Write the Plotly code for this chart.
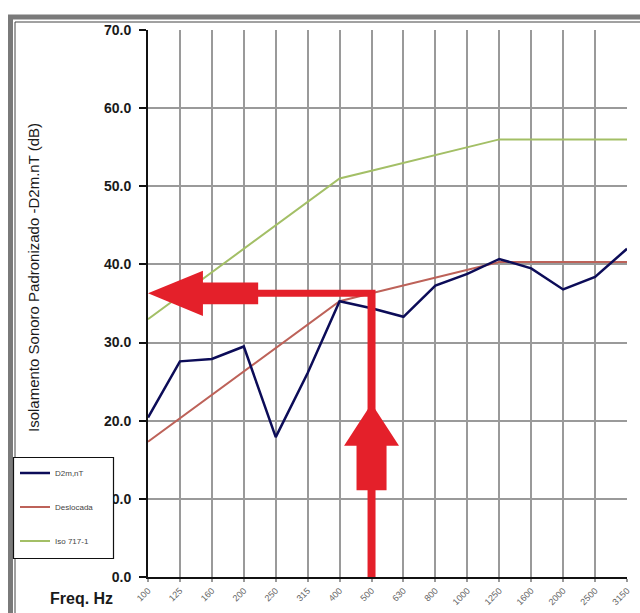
import plotly.graph_objects as go

# ---- data ----
freqs = ["100", "125", "160", "200", "250", "315", "400", "500", "630",
         "800", "1000", "1250", "1600", "2000", "2500", "3150"]
d2mnt = [20.4, 27.6, 27.9, 29.5, 17.9, 26.1, 35.3, 34.4, 33.3,
         37.3, 38.8, 40.7, 39.5, 36.8, 38.4, 42.0]
deslocada = [17.3, 20.3, 23.3, 26.3, 29.3, 32.3, 35.3, 36.3, 37.3,
             38.3, 39.3, 40.3, 40.3, 40.3, 40.3, 40.3]
iso717 = [33, 36, 39, 42, 45, 48, 51, 52, 53, 54, 55, 56, 56, 56, 56, 56]
y_ticks = [0, 10, 20, 30, 40, 50, 60, 70]
index_freq = "500"      # frequency used for the single-number index
index_value = 36.3      # value read at 500 Hz on the shifted curve

xpos = list(range(len(freqs)))

W, H = 640, 613
L, R, T, B = 148, 13, 30, 36
PW, PH = W - L - R, H - T - B


def px_x(px):
    return (px - L) / PW


def px_y(py):
    return (H - B - py) / PH


FONT = "Liberation Sans, Arial, sans-serif"

fig = go.Figure()
fig.add_trace(go.Scatter(x=xpos, y=iso717, mode="lines", name="Iso 717-1",
                         line=dict(color="#a3bf66", width=2),
                         legendgroup="c", legendrank=3))
fig.add_trace(go.Scatter(x=xpos, y=deslocada, mode="lines", name="Deslocada",
                         line=dict(color="#bd6259", width=2),
                         legendgroup="b", legendrank=2))
fig.add_trace(go.Scatter(x=xpos, y=d2mnt, mode="lines", name="D2m,nT",
                         line=dict(color="#0c0c58", width=2.5),
                         legendgroup="a", legendrank=1))

# ---- red arrows (data coordinates: category index / dB) ----
hx = freqs.index(index_freq)
hy = index_value
RED = "#e4202a"
sx = 0.125   # half shaft width (index units)
sy = 0.45    # half shaft thickness (dB)
horiz = [
    (0, hy), (1.72, hy + 2.9), (1.72, hy + 1.4), (3.45, hy + 1.4),
    (3.45, hy + sy), (hx + sx, hy + sy), (hx + sx, -0.6), (hx - sx, -0.6),
    (hx - sx, hy - sy), (3.45, hy - sy), (3.45, hy - 1.4), (1.72, hy - 1.4),
    (1.72, hy - 2.9),
]
vert = [
    (hx, 22.2), (hx + 0.86, 16.8), (hx + 0.47, 16.8), (hx + 0.47, 11.1),
    (hx - 0.47, 11.1), (hx - 0.47, 16.8), (hx - 0.86, 16.8),
]


def to_path(pts):
    return "M " + " L ".join(f"{x},{y}" for x, y in pts) + " Z"


shapes = [
    dict(type="path", path=to_path(horiz), xref="x", yref="y",
         fillcolor=RED, line=dict(width=0), layer="above"),
    dict(type="path", path=to_path(vert), xref="x", yref="y",
         fillcolor=RED, line=dict(width=0), layer="above"),
    # outer frame of the picture
    dict(type="rect", xref="paper", yref="paper",
         x0=px_x(10.5), x1=px_x(720), y0=px_y(17), y1=px_y(720),
         line=dict(color="#7a7a7a", width=5), fillcolor="rgba(0,0,0,0)"),
    dict(type="rect", xref="paper", yref="paper",
         x0=px_x(15), x1=px_x(720), y0=px_y(22), y1=px_y(720),
         line=dict(color="#444444", width=1), fillcolor="rgba(0,0,0,0)"),
    # legend box
    dict(type="rect", xref="paper", yref="paper",
         x0=px_x(13.5), x1=px_x(113.5), y0=px_y(457.5), y1=px_y(558.5),
         line=dict(color="#111111", width=1.2), fillcolor="white",
         layer="above"),
]

annotations = [
    dict(text="Isolamento Sonoro Padronizado -D2m.nT (dB)", textangle=-90,
         xref="paper", yref="paper", x=px_x(33), y=px_y(278),
         xanchor="center", yanchor="middle", showarrow=False,
         font=dict(family=FONT, size=15, color="#1a1a1a")),
    dict(text="<b>Freq. Hz</b>", xref="paper", yref="paper",
         x=px_x(81), y=px_y(598), xanchor="center", yanchor="middle",
         showarrow=False, font=dict(family=FONT, size=16, color="#1a1a1a")),
]

fig.update_layout(
    width=W, height=H,
    margin=dict(l=L, r=R, t=T, b=B, pad=0, autoexpand=False),
    paper_bgcolor="white", plot_bgcolor="white",
    font=dict(family=FONT),
    shapes=shapes, annotations=annotations,
    legend=dict(x=px_x(15), y=px_y(458.5), xanchor="left", yanchor="top",
                bgcolor="rgba(0,0,0,0)", borderwidth=0,
                font=dict(family=FONT, size=8, color="#444444"),
                traceorder="grouped", tracegroupgap=15),
    showlegend=True,
)
fig.update_xaxes(
    range=[0, len(freqs) - 1], tickmode="array", tickvals=xpos, ticktext=freqs,
    tickangle=-45, tickfont=dict(family=FONT, size=9, color="#666666"),
    showgrid=True, gridcolor="#9a9a9a", gridwidth=1.5,
    showline=True, linecolor="#111111", linewidth=2,
    ticks="outside", ticklen=3, tickcolor="#9a9a9a", tickwidth=1.5,
    zeroline=False, fixedrange=True, automargin=False,
)
fig.update_yaxes(
    range=[0, 70], tickmode="array", tickvals=y_ticks, tickformat=".1f",
    tickfont=dict(family=FONT, size=14, color="#1a1a1a", weight="bold"),
    showgrid=True, gridcolor="#9a9a9a", gridwidth=1.5,
    showline=True, linecolor="#111111", linewidth=2,
    ticks="outside", ticklen=7, tickcolor="#111111", tickwidth=1.5,
    ticklabelstandoff=5, zeroline=False, fixedrange=True, automargin=False,
)

fig.write_html("out.html",
               config={"displayModeBar": False},
               post_script="document.body.style.margin='0px';"
                           "document.body.style.overflow='hidden';")
